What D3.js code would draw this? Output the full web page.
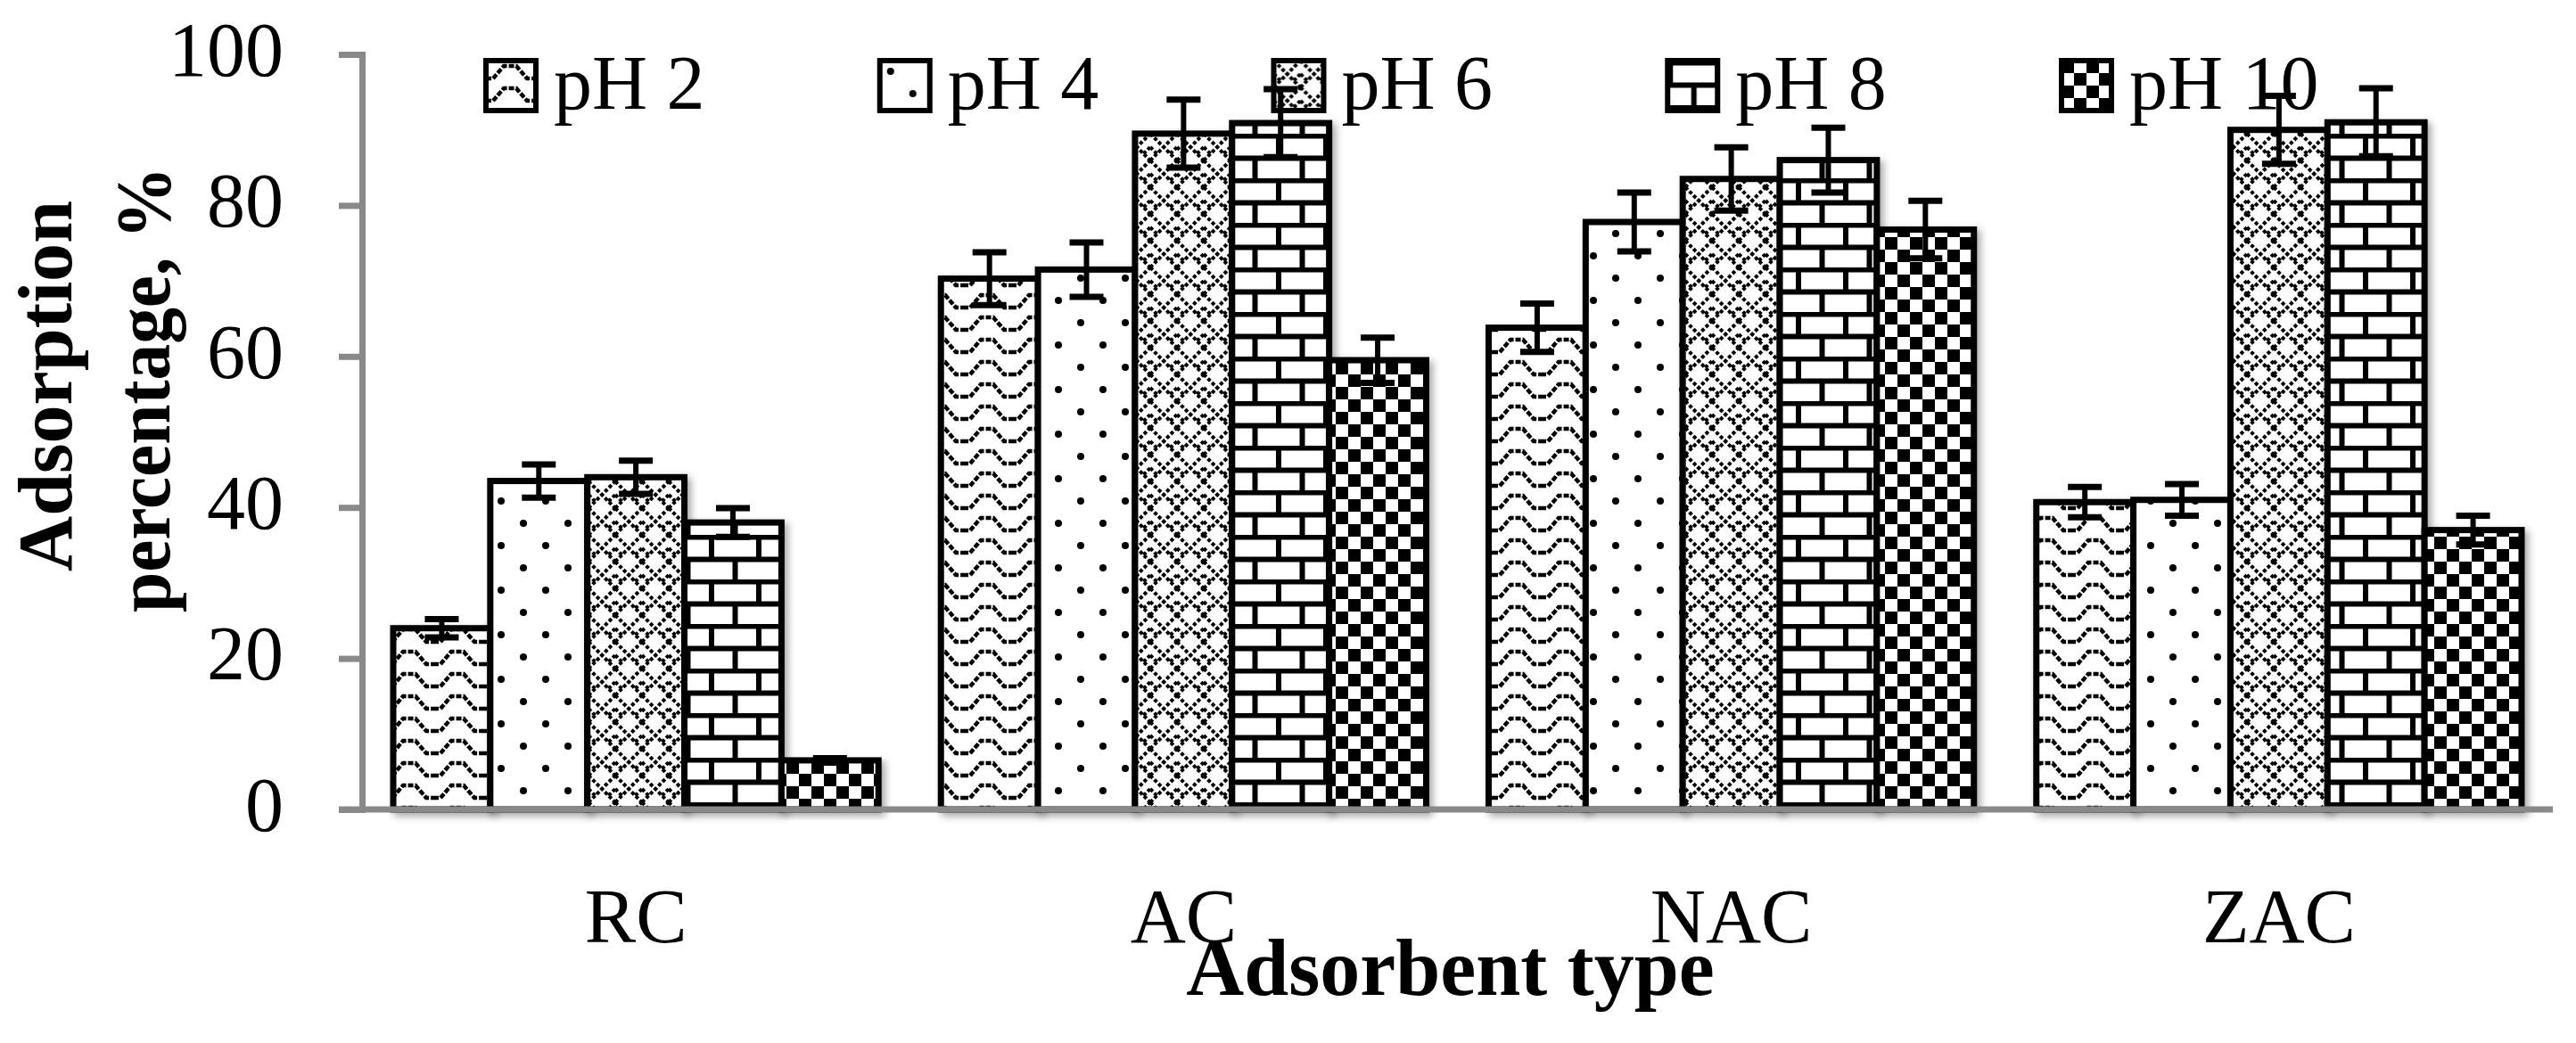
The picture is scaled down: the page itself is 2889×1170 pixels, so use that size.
<!DOCTYPE html>
<html>
<head>
<meta charset="utf-8">
<script src="https://cdn.jsdelivr.net/npm/d3@7"></script>
<style>
  body { margin: 0; background: #fff; }
  svg text { font-family: "Liberation Serif", "Times New Roman", serif; fill: #000; }
</style>
</head>
<body>
<div id="canvas"></div>
<script>
const categories = ['RC', 'AC', 'NAC', 'ZAC']
const series = ['pH 2', 'pH 4', 'pH 6', 'pH 8', 'pH 10']

// adsorption %, one array per pH, in category order
const ph2 = [24.0, 70.3, 63.8, 40.7]
const ph4 = [43.5, 71.5, 77.8, 41.0]
const ph6 = [44.0, 89.5, 83.5, 90.0]
const ph8 = [38.0, 90.9, 86.0, 91.0]
const ph10 = [6.5, 59.5, 76.8, 37.0]

// error bar half lengths
const ph2Err = [1.2, 3.5, 3.2, 2.0]
const ph4Err = [2.2, 3.6, 3.9, 2.1]
const ph6Err = [2.2, 4.5, 4.2, 4.5]
const ph8Err = [1.9, 4.5, 4.3, 4.5]
const ph10Err = [0.3, 3.0, 3.8, 1.9]

const yTicks = [0, 20, 40, 60, 80, 100]

const values = [ph2, ph4, ph6, ph8, ph10]
const errors = [ph2Err, ph4Err, ph6Err, ph8Err, ph10Err]

const width = 2889
const height = 1170
const plot = { left: 406, right: 2863, top: 61, bottom: 908 }

const rows = []
series.forEach((s, si) => {
  categories.forEach((c, ci) => {
    rows.push({ cat: c, ser: s, si: si, value: values[si][ci], err: errors[si][ci] })
  })
})

const svg = d3.select('#canvas')
  .append('svg')
    .attr('width', width)
    .attr('height', height)

const defs = svg.append('defs')

// soft drop shadow behind the bars
const shadow = defs.append('filter').attr('id', 'shadow')
  .attr('x', '-10%').attr('y', '-10%').attr('width', '130%').attr('height', '130%')
shadow.append('feGaussianBlur').attr('in', 'SourceAlpha').attr('stdDeviation', 4)
shadow.append('feOffset').attr('dx', 4).attr('dy', 4).attr('result', 'off')
shadow.append('feComponentTransfer').append('feFuncA').attr('type', 'linear').attr('slope', 0.35)
const merge = shadow.append('feMerge')
merge.append('feMergeNode')
merge.append('feMergeNode').attr('in', 'SourceGraphic')

function pattern(id, w, h) {
  const p = defs.append('pattern')
    .attr('id', id)
    .attr('patternUnits', 'userSpaceOnUse')
    .attr('width', w)
    .attr('height', h)
  p.append('rect').attr('width', w).attr('height', h).attr('fill', '#fff')
  return p
}

// pH 2 - wave
pattern('p0', 54, 25).append('path')
  .attr('d', 'M0,20 L8,20 L20,6 L34,6 L46,20 L54,20')
  .attr('fill', 'none').attr('stroke', '#000')
  .attr('stroke-width', 4.5).attr('stroke-dasharray', '6 2')

// pH 4 - sparse dots
const p1 = pattern('p1', 50, 50)
p1.append('circle').attr('cx', 12).attr('cy', 12).attr('r', 4)
p1.append('circle').attr('cx', 37).attr('cy', 37).attr('r', 4)

// pH 6 - weave
const p2 = pattern('p2', 30, 30)
p2.append('path')
  .attr('d', 'M0,0 L15,15 L30,0 M0,15 L7.5,22.5 M22.5,22.5 L30,15 M0,30 L15,15 L30,30')
  .attr('fill', 'none').attr('stroke', '#000')
  .attr('stroke-width', 4).attr('stroke-dasharray', '4 2.5')

// pH 8 - horizontal brick
const p3 = pattern('p3', 53, 50)
p3.append('path')
  .attr('d', 'M0,2.5 H53 M0,27.5 H53 M3,0 V27.5 M29.5,25 V50')
  .attr('stroke', '#000').attr('stroke-width', 6)

// pH 10 - checker board
const p4 = pattern('p4', 28, 28)
p4.append('rect').attr('x', 0).attr('y', 0).attr('width', 14).attr('height', 14).attr('fill', '#000')
p4.append('rect').attr('x', 14).attr('y', 14).attr('width', 14).attr('height', 14).attr('fill', '#000')

const x0 = d3.scaleBand()
  .domain(categories)
  .range([plot.left, plot.right])
  .paddingInner(0.114)
  .paddingOuter(0.057)

const x1 = d3.scaleBand()
  .domain(series)
  .range([0, x0.bandwidth()])

const y = d3.scaleLinear()
  .domain([0, 100])
  .range([plot.bottom, plot.top])

// bars
svg.append('g')
  .selectAll('rect')
  .data(rows)
  .enter()
  .append('rect')
    .attr('x', d => x0(d.cat) + x1(d.ser))
    .attr('y', d => y(d.value))
    .attr('width', x1.bandwidth())
    .attr('height', d => y(0) - y(d.value))
    .attr('fill', d => `url(#p${d.si})`)
    .attr('stroke', '#000')
    .attr('stroke-width', 7)
    .attr('filter', 'url(#shadow)')

// axes
const yAxis = svg.append('g')
  .attr('transform', `translate(${plot.left}, 0)`)
  .call(d3.axisLeft(y).tickValues(yTicks).tickSize(26).tickPadding(62))
yAxis.select('.domain').attr('stroke', '#898989').attr('stroke-width', 7)
yAxis.selectAll('.tick line').attr('stroke', '#898989').attr('stroke-width', 7)
yAxis.selectAll('.tick text')
  .attr('font-size', 86)
  .attr('font-family', '"Liberation Serif", serif')
  .attr('fill', '#000')
  .attr('dy', '0.27em')

const xAxis = svg.append('g')
  .attr('transform', `translate(0, ${plot.bottom})`)
  .call(d3.axisBottom(x0).tickSize(0))
xAxis.select('.domain').attr('stroke', '#898989').attr('stroke-width', 7)
  .attr('d', `M${plot.left - 26},0H${plot.right}`)
xAxis.selectAll('.tick text')
  .attr('font-size', 86)
  .attr('font-family', '"Liberation Serif", serif')
  .attr('fill', '#000')
  .attr('y', 149)
  .attr('dy', 0)

// axis titles
svg.append('text')
  .attr('x', (plot.left + plot.right) / 2 - 8)
  .attr('y', 1116)
  .attr('text-anchor', 'middle')
  .attr('font-size', 90)
  .attr('font-weight', 'bold')
  .text('Adsorbent type')

const yTitle = svg.append('g')
  .attr('transform', 'translate(0, 435) rotate(-90)')
  .append('text')
    .attr('text-anchor', 'middle')
    .attr('font-size', 86)
    .attr('font-weight', 'bold')
yTitle.append('tspan').attr('x', 2).attr('y', 80)
  .attr('textLength', 416).attr('lengthAdjust', 'spacingAndGlyphs')
  .text('Adsorption')
yTitle.append('tspan').attr('x', -2).attr('y', 190)
  .attr('textLength', 500).attr('lengthAdjust', 'spacingAndGlyphs')
  .text('percentage, %')

// legend
const legendX = d3.scalePoint()
  .domain(series)
  .range([545, 2312])

const legend = svg.append('g')
  .selectAll('g')
  .data(series)
  .enter()
  .append('g')
    .attr('transform', d => `translate(${legendX(d)}, 68)`)

legend.append('rect')
  .attr('width', 56)
  .attr('height', 56)
  .attr('fill', (d, i) => `url(#p${i})`)
  .attr('stroke', '#000')
  .attr('stroke-width', 6)

// error bars
const err = svg.append('g')
  .selectAll('g')
  .data(rows)
  .enter()
  .append('g')
    .attr('transform', d => `translate(${x0(d.cat) + x1(d.ser) + x1.bandwidth() / 2}, 0)`)

err.append('line')
  .attr('y1', d => y(d.value + d.err))
  .attr('y2', d => y(d.value - d.err))
  .attr('stroke', '#000')
  .attr('stroke-width', 6)
err.append('line')
  .attr('x1', -19).attr('x2', 19)
  .attr('y1', d => y(d.value + d.err))
  .attr('y2', d => y(d.value + d.err))
  .attr('stroke', '#000')
  .attr('stroke-width', 7)
err.append('line')
  .attr('x1', -19).attr('x2', 19)
  .attr('y1', d => y(d.value - d.err))
  .attr('y2', d => y(d.value - d.err))
  .attr('stroke', '#000')
  .attr('stroke-width', 7)

legend.append('text')
  .attr('x', 76)
  .attr('y', 54)
  .attr('font-size', 86)
  .text(d => d)

// legend swatches sit above the error bars
legend.each(function() { this.parentNode.appendChild(this) })
</script>
</body>
</html>
